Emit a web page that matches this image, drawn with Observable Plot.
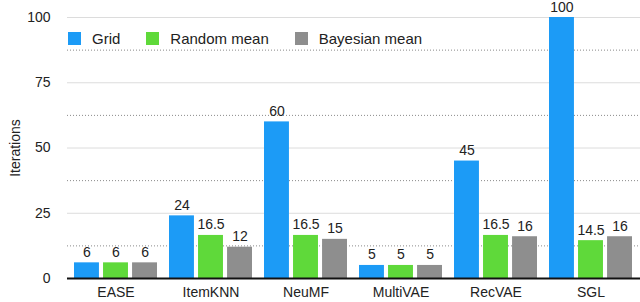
<!DOCTYPE html>
<html>
<head>
<meta charset="utf-8">
<script src="https://cdn.jsdelivr.net/npm/d3@7"></script>
<script src="https://cdn.jsdelivr.net/npm/@observablehq/plot@0.6"></script>
<style>
  html, body { margin: 0; padding: 0; background: #fff; }
  #wrap { position: relative; width: 640px; height: 302px; font-family: "Liberation Sans", Arial, Helvetica, sans-serif; }
  #legend { position: absolute; left: 68px; top: 30px; display: flex; align-items: center; font-size: 15px; color: #222; }
  #legend .item { display: flex; align-items: center; margin-right: 26px; }
  #legend .sw { width: 13px; height: 13px; margin-right: 11px; }
</style>
</head>
<body>
<div id="wrap"></div>
<script>
const categories = ["EASE", "ItemKNN", "NeuMF", "MultiVAE", "RecVAE", "SGL"];
const series = ["Grid", "Random mean", "Bayesian mean"];
const gridValues = [6, 24, 60, 5, 45, 100];
const randomValues = [6, 16.5, 16.5, 5, 16.5, 14.5];
const bayesValues = [6, 12, 15, 5, 16, 16];
const colors = ["#1c9bf6", "#5fd93a", "#8e8e8e"];
const yTicks = [0, 25, 50, 75, 100];
const yMinor = [12.5, 37.5, 62.5, 87.5];

const valuesBySeries = [gridValues, randomValues, bayesValues];
const data = [];
series.forEach((s, i) => categories.forEach((c, j) => data.push({category: c, series: s, value: valuesBySeries[i][j], si: i})));

// layout
const W = 640, H = 302, mL = 67, mR = 0, mT = 17, mB = 24;
const pIn = 0.125, pOut = 0.0625;
const step = (W - mL - mR) / (categories.length - pIn + 2 * pOut);
const bw = step * (1 - pIn);
const barW = 25.5;
const gap = (bw - 3 * barW) / 2;

const marks = [
  Plot.ruleY(yTicks.filter(d => d > 0), {stroke: "#dcdcdc", strokeWidth: 1}),
  Plot.ruleY(yMinor, {stroke: "#8a8a8a", strokeWidth: 1, strokeDasharray: "1,2"})
];
series.forEach((s, i) => {
  const left = i * (barW + gap);
  const right = bw - barW - left;
  const sub = data.filter(d => d.si === i);
  marks.push(Plot.barY(sub, {x: "category", y: "value", fill: colors[i], insetLeft: left, insetRight: right}));
  marks.push(Plot.text(sub, {x: "category", y: "value", text: d => String(d.value), dx: left + barW / 2 - bw / 2, dy: -6, lineAnchor: "bottom", fill: "#222", fontSize: 14}));
});
marks.push(Plot.ruleY([0], {stroke: "#111", strokeWidth: 2}));

const chart = Plot.plot({
  width: W, height: H,
  marginLeft: mL, marginRight: mR, marginTop: mT, marginBottom: mB,
  style: {fontFamily: '"Liberation Sans", Arial, Helvetica, sans-serif', fontSize: "14px", color: "#222", background: "#fff", overflow: "visible"},
  x: {domain: categories, paddingInner: pIn, paddingOuter: pOut, label: null, tickSize: 0, tickPadding: 9},
  y: {domain: [0, 100], ticks: yTicks, tickSize: 0, tickPadding: 17, label: "Iterations", labelArrow: "none", labelAnchor: "center", labelOffset: 57},
  marks
});
const wrap = document.getElementById("wrap");
wrap.appendChild(chart);

const legend = document.createElement("div");
legend.id = "legend";
series.forEach((s, i) => {
  const item = document.createElement("div");
  item.className = "item";
  const sw = document.createElement("div");
  sw.className = "sw";
  sw.style.background = colors[i];
  const t = document.createElement("span");
  t.textContent = s;
  item.appendChild(sw); item.appendChild(t);
  legend.appendChild(item);
});
wrap.appendChild(legend);
</script>
</body>
</html>
